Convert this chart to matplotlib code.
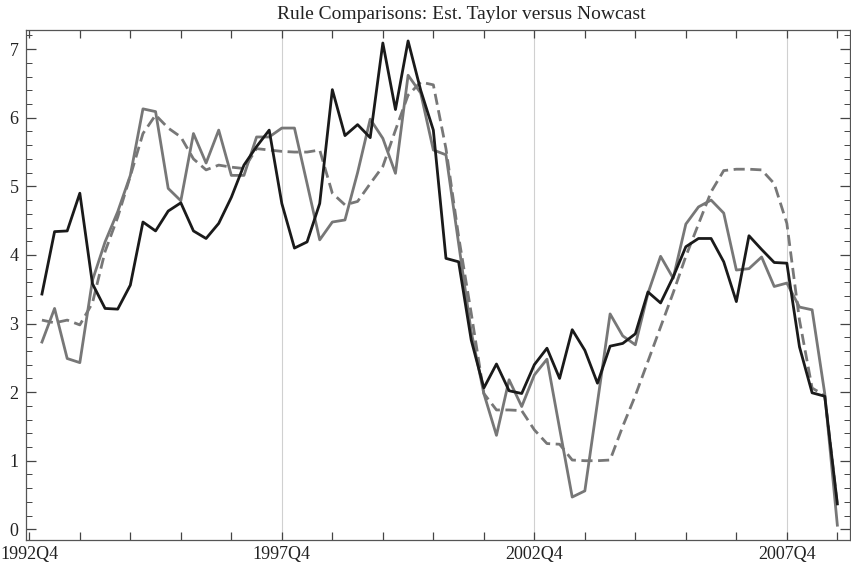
import numpy as np
import matplotlib
matplotlib.use("Agg")
import matplotlib.pyplot as plt

# quarters after 1992Q4 (1 = 1993Q1 ... 64 = 2008Q4)
quarters = list(range(1, 65))
tick_labels = ["1992Q4", "1997Q4", "2002Q4", "2007Q4"]

nowcast = [3.43, 4.34, 4.35, 4.90, 3.58, 3.22, 3.21, 3.56, 4.48, 4.35,
           4.64, 4.76, 4.35, 4.24, 4.46, 4.84, 5.31, 5.58, 5.82, 4.75,
           4.10, 4.19, 4.75, 6.41, 5.74, 5.90, 5.71, 7.09, 6.12, 7.12,
           6.40, 5.82, 3.95, 3.90, 2.76, 2.06, 2.41, 2.02, 1.98, 2.40,
           2.64, 2.20, 2.91, 2.61, 2.13, 2.67, 2.71, 2.85, 3.46, 3.30,
           3.68, 4.12, 4.24, 4.24, 3.90, 3.32, 4.28, 4.08, 3.89, 3.88,
           2.66, 1.99, 1.94, 0.37]

est_taylor = [2.73, 3.22, 2.49, 2.43, 3.63, 4.19, 4.63, 5.16, 6.13, 6.09,
              4.97, 4.79, 5.77, 5.34, 5.82, 5.16, 5.16, 5.72, 5.72, 5.85,
              5.85, 5.04, 4.22, 4.48, 4.51, 5.20, 5.98, 5.70, 5.19, 6.62,
              6.36, 5.53, 5.46, 4.17, 2.88, 1.98, 1.37, 2.18, 1.79, 2.25,
              2.48, 1.47, 0.47, 0.56, 1.85, 3.14, 2.82, 2.69, 3.44, 3.98,
              3.66, 4.45, 4.70, 4.80, 4.61, 3.78, 3.80, 3.97, 3.54, 3.59,
              3.24, 3.20, 1.98, 0.06]

actual = [3.05, 3.01, 3.05, 2.98, 3.30, 4.05, 4.55, 5.15, 5.77, 6.04,
          5.85, 5.72, 5.40, 5.24, 5.31, 5.28, 5.26, 5.55, 5.53, 5.51,
          5.50, 5.50, 5.53, 4.90, 4.73, 4.78, 5.04, 5.29, 5.82, 6.33,
          6.52, 6.48, 5.55, 4.27, 3.15, 1.98, 1.74, 1.74, 1.73, 1.45,
          1.25, 1.24, 1.01, 1.00, 1.00, 1.01, 1.50, 1.95, 2.45, 2.95,
          3.45, 3.98, 4.45, 4.92, 5.23, 5.25, 5.25, 5.24, 5.04, 4.46,
          3.05, 2.06, 1.95, 0.35]

plt.rcParams['font.family'] = ['Liberation Serif', 'DejaVu Serif']

fig = plt.figure(figsize=(8.51, 5.71), dpi=100)
ax = fig.add_axes([0.0306, 0.0543, 0.9682, 0.8932])

grey = '#777777'
ax.plot(quarters, actual, color=grey, lw=2.0, linestyle=(0, (4, 2)))
ax.plot(quarters, est_taylor, color=grey, lw=2.0)
ax.plot(quarters, nowcast, color='#1a1a1a', lw=2.0)

for q in [20, 40, 60]:
    ax.axvline(q, color='#d0d0d0', lw=0.8, zorder=0)

ax.set_xlim(-0.26, 65.0)
ax.set_ylim(-0.156, 7.28)

ax.set_xticks([0, 20, 40, 60])
ax.set_xticklabels(tick_labels)
ax.set_xticks(range(0, 65, 4), minor=True)
ax.set_yticks(range(0, 8))
ax.set_yticks(np.arange(0, 7.3, 0.2), minor=True)

ax.tick_params(which='both', direction='in', top=True, right=True,
               color='#444444', labelcolor='#222222', labelsize=13)
ax.tick_params(axis='x', which='both', length=6, width=0.9, pad=4)
ax.tick_params(axis='y', which='major', length=7, width=0.9, pad=5.5)
ax.tick_params(axis='y', which='minor', length=4, width=0.7)

for s in ax.spines.values():
    s.set_color('#555555')
    s.set_linewidth(0.9)

fig.text(461 / 851, 1 - 19.3 / 571, "Rule Comparisons: Est. Taylor versus Nowcast",
         fontsize=14, color='#222222', ha='center', va='baseline')

fig.savefig("out.png", dpi=100)
